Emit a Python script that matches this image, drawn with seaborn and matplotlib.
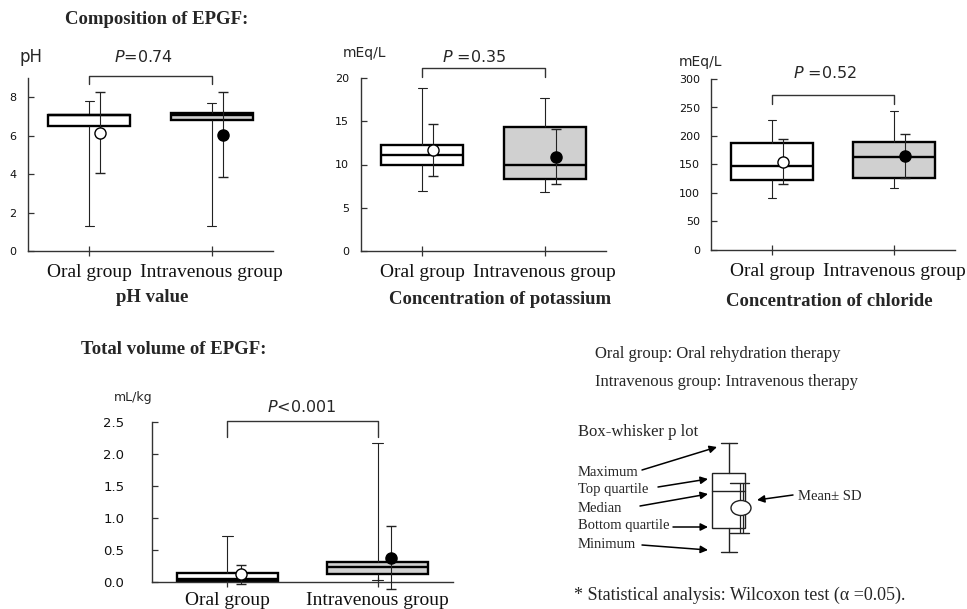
import numpy as np
import pandas as pd
import matplotlib
matplotlib.use("Agg")
import matplotlib.pyplot as plt
import seaborn as sns
from matplotlib.patches import Rectangle, Ellipse

# ---------------- data ----------------
groups = ["Oral group", "Intravenous group"]

# five-number summaries: min, Q1, median, Q3, max
ph_oral = [1.3, 6.5, 7.1, 7.1, 7.8]
ph_iv = [1.3, 6.8, 7.1, 7.2, 7.7]
ph_mean = [6.15, 6.05]
ph_sd = [2.1, 2.2]

k_oral = [6.9, 10.0, 11.1, 12.2, 18.9]
k_iv = [6.8, 8.3, 10.0, 14.3, 17.7]
k_mean = [11.7, 10.9]
k_sd = [3.0, 3.15]

cl_oral = [92, 122, 148, 187, 228]
cl_iv = [108, 126, 164, 189, 243]
cl_mean = [155, 165]
cl_sd = [39, 39]

vol_oral = [0.0, 0.02, 0.04, 0.14, 0.72]
vol_iv = [0.03, 0.13, 0.23, 0.32, 2.17]
vol_mean = [0.12, 0.38]
vol_sd = [0.15, 0.49]

p_labels = ["$P$=0.74", "$P$ =0.35", "$P$ =0.52", "$P$<0.001"]
units = ["pH", "mEq/L", "mEq/L", "mL/kg"]
panel_titles = ["pH value", "Concentration of potassium", "Concentration of chloride"]

# ---------------- style ----------------
sns.set_style("ticks")
plt.rcParams["font.family"] = ["DejaVu Sans"]
plt.rcParams["mathtext.fontset"] = "dejavusans"
SERIF = "Liberation Serif"

W, H = 967, 609
fig = plt.figure(figsize=(W / 100, H / 100), dpi=100)


def rect(l, r, t, b):
    return [l / W, 1 - b / H, (r - l) / W, (b - t) / H]


ov = fig.add_axes([0, 0, 1, 1], zorder=10)
ov.set_xlim(0, W)
ov.set_ylim(H, 0)
ov.axis("off")
ov.patch.set_alpha(0)


def txt(x, y, s, **kw):
    kw.setdefault("ha", "center")
    kw.setdefault("va", "center")
    ov.text(x, y, s, **kw)


def panel(ax, oral, iv, mean, sd, ylim, yticks, fmt, bracket, tick_fs, ypad, xpad):
    df = pd.DataFrame({"group": [groups[0]] * len(oral) + [groups[1]] * len(iv),
                       "value": oral + iv})
    sns.boxplot(data=df, x="group", y="value", hue="group",
                palette=["white", "#d0d0d0"], legend=False, width=0.67,
                whis=(0, 100), showfliers=False, linecolor="black",
                linewidth=1.7,
                whiskerprops=dict(linewidth=0.8, color="#222222"),
                capprops=dict(linewidth=0.8, color="#222222"),
                medianprops=dict(linewidth=1.7, color="black"),
                capwidths=0.07, ax=ax)
    fills = ["white", "black"]
    for i in range(2):
        cont = ax.errorbar(i + 0.09, mean[i], yerr=sd[i], fmt="o",
                           mfc=fills[i], mec="black", ms=8, mew=1,
                           ecolor="#222222", elinewidth=0.8, capsize=3.5,
                           capthick=0.8, zorder=5)
        for part in cont.get_children():
            part.set_clip_on(False)
    ax.set_xlim(-0.5, 1.5)
    ax.set_ylim(*ylim)
    ax.set_yticks(yticks)
    ax.set_yticklabels([fmt.format(v) for v in yticks])
    ax.set_xlabel("")
    ax.set_ylabel("")
    for s in ["top", "right"]:
        ax.spines[s].set_visible(False)
    for s in ["left", "bottom"]:
        ax.spines[s].set_linewidth(1.0)
        ax.spines[s].set_color("#333333")
    ax.tick_params(axis="y", direction="in", length=4, width=0.9,
                   labelsize=tick_fs, pad=ypad, colors="#333333")
    ax.tick_params(axis="x", direction="inout", length=7, width=0.9,
                   pad=xpad, colors="#333333")
    for t in ax.get_xticklabels():
        t.set_fontfamily(SERIF)
        t.set_fontsize(14)
        t.set_color("#111111")
    for t in ax.get_yticklabels():
        t.set_color("#111111")
    top, low = bracket
    ax.plot([0, 0, 1, 1], [low, top, top, low], color="#333333", lw=1.0,
            clip_on=False)


ax1 = fig.add_axes(rect(28, 273, 78, 251))
panel(ax1, ph_oral, ph_iv, ph_mean, ph_sd, (0, 9), [0, 2, 4, 6, 8], "{:d}",
      (9.1, 8.7), 8, 8.5, 6)
ax2 = fig.add_axes(rect(361, 606, 78, 251))
panel(ax2, k_oral, k_iv, k_mean, k_sd, (0, 20), [0, 5, 10, 15, 20], "{:d}",
      (21.2, 20.1), 8, 8.5, 6)
ax3 = fig.add_axes(rect(711, 955, 79, 250))
panel(ax3, cl_oral, cl_iv, cl_mean, cl_sd, (0, 300),
      [0, 50, 100, 150, 200, 250, 300], "{:d}", (272, 256), 8, 8, 6)
ax4 = fig.add_axes(rect(152, 453, 422, 582))
panel(ax4, vol_oral, vol_iv, vol_mean, vol_sd, (0, 2.5),
      [0.0, 0.5, 1.0, 1.5, 2.0, 2.5], "{:.1f}", (2.52, 2.27), 9.5, 20, 4)

# ---------------- texts ----------------
# P values
txt(143, 57, p_labels[0], fontsize=11.5)
txt(474, 57, p_labels[1], fontsize=11.5)
txt(825, 73, p_labels[2], fontsize=11.5)
txt(302, 407, p_labels[3], fontsize=11.5)

# units
txt(31, 57, units[0], fontsize=12)
txt(364, 53, units[1], fontsize=10)
txt(700, 62, units[2], fontsize=10)
txt(133, 397, units[3], fontsize=9)

# titles
bold = dict(fontfamily=SERIF, fontweight="bold", fontsize=13.5)
txt(157, 20, "Composition of EPGF:", **bold)
txt(152, 298, panel_titles[0], **bold)
txt(500, 299, panel_titles[1], **bold)
txt(829, 301, panel_titles[2], **bold)
txt(174, 350, "Total volume of EPGF:", **bold)

# definitions
txt(595, 354, "Oral group: Oral rehydration therapy", ha="left",
    fontfamily=SERIF, fontsize=12)
txt(595, 382, "Intravenous group: Intravenous therapy", ha="left",
    fontfamily=SERIF, fontsize=12)
txt(905, 595, "* Statistical analysis: Wilcoxon test (\u03b1 =0.05).",
    ha="right", fontfamily=SERIF, fontsize=13)

# ---------------- box-whisker legend schematic ----------------
txt(578, 432, "Box-whisker p lot", ha="left", fontfamily=SERIF, fontsize=12)
lab = dict(ha="left", fontfamily=SERIF, fontsize=10.5)
txt(578, 472, "Maximum", **lab)
txt(578, 490, "Top quartile", **lab)
txt(578, 508, "Median", **lab)
txt(578, 526, "Bottom quartile", **lab)
txt(578, 544, "Minimum", **lab)
txt(798, 496, "Mean\u00b1 SD", **lab)

lc = "#222222"
ov.add_patch(Rectangle((712, 473), 33, 55, fill=False, ec=lc, lw=1.0))
ov.plot([729, 729], [443, 473], color=lc, lw=1.0)
ov.plot([729, 729], [528, 552], color=lc, lw=1.0)
ov.plot([721, 737], [443, 443], color=lc, lw=1.0)
ov.plot([721, 737], [552, 552], color=lc, lw=1.0)
ov.plot([712, 745], [491, 491], color=lc, lw=1.0)
ov.plot([739.5, 739.5], [483, 533], color=lc, lw=0.9)
ov.plot([743, 743], [483, 533], color=lc, lw=0.9)
ov.plot([730, 749], [483, 483], color=lc, lw=1.0)
ov.plot([730, 749], [533, 533], color=lc, lw=1.0)
ov.add_patch(Ellipse((741, 508), 20, 15, fc="white", ec=lc, lw=1.0, zorder=5))

arrows = [((642, 470), (717, 447)),
          ((658, 487), (708, 479)),
          ((640, 506), (708, 494)),
          ((673, 527), (708, 527)),
          ((642, 545), (708, 550)),
          ((793, 495), (757, 500))]
for start, end in arrows:
    ov.annotate("", xy=end, xytext=start,
                arrowprops=dict(arrowstyle="-|>", lw=1.1, color="black",
                                mutation_scale=11, shrinkA=0, shrinkB=0))

fig.savefig("out.png", dpi=100)
